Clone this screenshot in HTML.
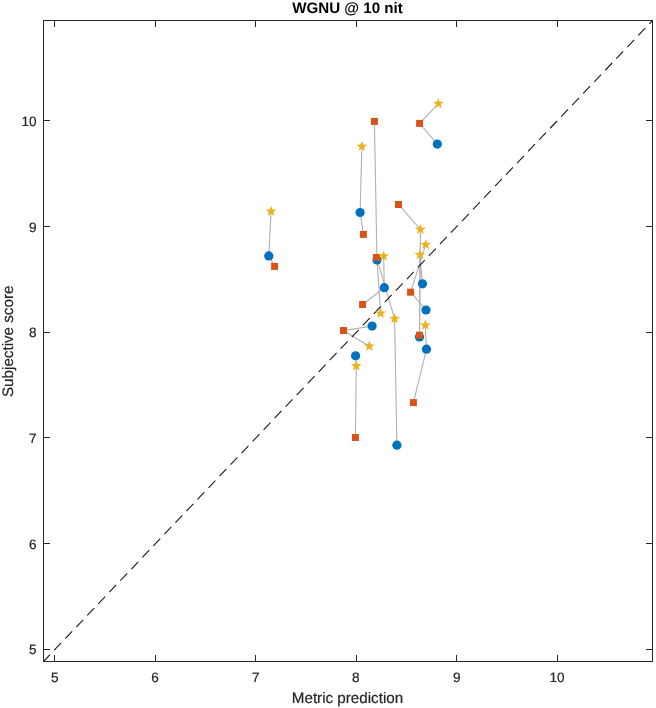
<!DOCTYPE html>
<html><head><meta charset="utf-8"><title>WGNU @ 10 nit</title>
<style>
html,body{margin:0;padding:0;background:#fff;}
body{width:656px;height:708px;overflow:hidden;font-family:"Liberation Sans",sans-serif;}
svg text{text-rendering:geometricPrecision;}
svg{will-change:transform;}
svg{display:block;font-family:"Liberation Sans",sans-serif;}
</style></head><body>
<svg width="656" height="708" viewBox="0 0 656 708">
<rect x="0" y="0" width="656" height="708" fill="#ffffff"/>
<g fill="none" stroke="#b0b0b0" stroke-width="1.1" stroke-linejoin="round">
<polyline points="438.4,103.6 419.6,123.4 437.3,144.1"/>
<polyline points="374.4,121.4 377.0,260.0 380.6,313.4"/>
<polyline points="361.9,146.4 360.1,212.5 363.4,234.4"/>
<polyline points="271.1,211.3 268.8,255.9 274.6,266.4"/>
<polyline points="398.5,204.5 420.4,229.4 419.5,336.9"/>
<polyline points="425.7,244.7 410.6,292.2 426.0,310.0"/>
<polyline points="422.5,283.8 419.9,254.8 419.5,335.2"/>
<polyline points="383.7,256.2 384.3,287.7 362.6,304.5"/>
<polyline points="376.5,257.4 394.6,318.8 396.9,445.2"/>
<polyline points="372.1,326.1 343.5,330.5 369.3,346.2"/>
<polyline points="355.6,355.8 356.3,365.9 355.4,437.5"/>
<polyline points="425.3,325.2 426.5,349.2 413.4,402.6"/>
</g>
<line x1="43.5" y1="661.5" x2="652.5" y2="20.5" stroke="#1a1a1a" stroke-width="1.1" stroke-dasharray="10 6" stroke-dashoffset="0.45"/>
<g fill="#0072bd">
<circle cx="437.3" cy="144.1" r="4.62"/>
<circle cx="360.1" cy="212.5" r="4.62"/>
<circle cx="268.8" cy="255.9" r="4.62"/>
<circle cx="377.0" cy="260.0" r="4.62"/>
<circle cx="384.3" cy="287.7" r="4.62"/>
<circle cx="422.5" cy="283.8" r="4.62"/>
<circle cx="426.0" cy="310.0" r="4.62"/>
<circle cx="372.1" cy="326.1" r="4.62"/>
<circle cx="419.5" cy="336.9" r="4.62"/>
<circle cx="355.6" cy="355.8" r="4.62"/>
<circle cx="426.5" cy="349.2" r="4.62"/>
<circle cx="396.9" cy="445.2" r="4.62"/>
</g>
<g fill="#d95319">
<rect x="370.9" y="117.9" width="7.0" height="7.0"/>
<rect x="416.1" y="119.9" width="7.0" height="7.0"/>
<rect x="395.0" y="201.0" width="7.0" height="7.0"/>
<rect x="359.9" y="230.9" width="7.0" height="7.0"/>
<rect x="271.1" y="262.9" width="7.0" height="7.0"/>
<rect x="373.0" y="253.9" width="7.0" height="7.0"/>
<rect x="359.1" y="301.0" width="7.0" height="7.0"/>
<rect x="407.1" y="288.7" width="7.0" height="7.0"/>
<rect x="340.0" y="327.0" width="7.0" height="7.0"/>
<rect x="416.0" y="331.7" width="7.0" height="7.0"/>
<rect x="409.9" y="399.1" width="7.0" height="7.0"/>
<rect x="351.9" y="434.0" width="7.0" height="7.0"/>
</g>
<g fill="#edb120">
<polygon points="438.40,97.95 439.77,101.76 443.82,101.89 440.62,104.37 441.75,108.26 438.40,105.99 435.05,108.26 436.18,104.37 432.98,101.89 437.03,101.76"/>
<polygon points="361.90,140.75 363.27,144.56 367.32,144.69 364.12,147.17 365.25,151.06 361.90,148.79 358.55,151.06 359.68,147.17 356.48,144.69 360.53,144.56"/>
<polygon points="271.10,205.65 272.47,209.46 276.52,209.59 273.32,212.07 274.45,215.96 271.10,213.69 267.75,215.96 268.88,212.07 265.68,209.59 269.73,209.46"/>
<polygon points="420.40,223.75 421.77,227.56 425.82,227.69 422.62,230.17 423.75,234.06 420.40,231.79 417.05,234.06 418.18,230.17 414.98,227.69 419.03,227.56"/>
<polygon points="425.70,238.95 427.07,242.76 431.12,242.89 427.92,245.37 429.05,249.26 425.70,246.99 422.35,249.26 423.48,245.37 420.28,242.89 424.33,242.76"/>
<polygon points="383.70,250.45 385.07,254.26 389.12,254.39 385.92,256.87 387.05,260.76 383.70,258.49 380.35,260.76 381.48,256.87 378.28,254.39 382.33,254.26"/>
<polygon points="419.90,249.05 421.27,252.86 425.32,252.99 422.12,255.47 423.25,259.36 419.90,257.09 416.55,259.36 417.68,255.47 414.48,252.99 418.53,252.86"/>
<polygon points="380.60,307.65 381.97,311.46 386.02,311.59 382.82,314.07 383.95,317.96 380.60,315.69 377.25,317.96 378.38,314.07 375.18,311.59 379.23,311.46"/>
<polygon points="394.60,313.05 395.97,316.86 400.02,316.99 396.82,319.47 397.95,323.36 394.60,321.09 391.25,323.36 392.38,319.47 389.18,316.99 393.23,316.86"/>
<polygon points="425.30,319.55 426.67,323.36 430.72,323.49 427.52,325.97 428.65,329.86 425.30,327.59 421.95,329.86 423.08,325.97 419.88,323.49 423.93,323.36"/>
<polygon points="369.30,340.45 370.67,344.26 374.72,344.39 371.52,346.87 372.65,350.76 369.30,348.49 365.95,350.76 367.08,346.87 363.88,344.39 367.93,344.26"/>
<polygon points="356.30,360.15 357.67,363.96 361.72,364.09 358.52,366.57 359.65,370.46 356.30,368.19 352.95,370.46 354.08,366.57 350.88,364.09 354.93,363.96"/>
</g>
<g stroke="#262626" stroke-width="1" shape-rendering="crispEdges" fill="none">
<rect x="43.5" y="20.5" width="609.0" height="641.0"/>
<line x1="54.5" y1="661.5" x2="54.5" y2="655.0"/>
<line x1="54.5" y1="20.5" x2="54.5" y2="27.0"/>
<line x1="155.5" y1="661.5" x2="155.5" y2="655.0"/>
<line x1="155.5" y1="20.5" x2="155.5" y2="27.0"/>
<line x1="255.5" y1="661.5" x2="255.5" y2="655.0"/>
<line x1="255.5" y1="20.5" x2="255.5" y2="27.0"/>
<line x1="356.5" y1="661.5" x2="356.5" y2="655.0"/>
<line x1="356.5" y1="20.5" x2="356.5" y2="27.0"/>
<line x1="456.5" y1="661.5" x2="456.5" y2="655.0"/>
<line x1="456.5" y1="20.5" x2="456.5" y2="27.0"/>
<line x1="557.5" y1="661.5" x2="557.5" y2="655.0"/>
<line x1="557.5" y1="20.5" x2="557.5" y2="27.0"/>
<line x1="43.5" y1="649.5" x2="50.0" y2="649.5"/>
<line x1="652.5" y1="649.5" x2="646.0" y2="649.5"/>
<line x1="43.5" y1="543.5" x2="50.0" y2="543.5"/>
<line x1="652.5" y1="543.5" x2="646.0" y2="543.5"/>
<line x1="43.5" y1="437.5" x2="50.0" y2="437.5"/>
<line x1="652.5" y1="437.5" x2="646.0" y2="437.5"/>
<line x1="43.5" y1="332.5" x2="50.0" y2="332.5"/>
<line x1="652.5" y1="332.5" x2="646.0" y2="332.5"/>
<line x1="43.5" y1="226.5" x2="50.0" y2="226.5"/>
<line x1="652.5" y1="226.5" x2="646.0" y2="226.5"/>
<line x1="43.5" y1="120.5" x2="50.0" y2="120.5"/>
<line x1="652.5" y1="120.5" x2="646.0" y2="120.5"/>
</g>
<g font-size="13.6px" fill="#262626" stroke="#262626" stroke-width="0.2">
<text x="54.9" y="682.0" text-anchor="middle">5</text>
<text x="155.1" y="682.0" text-anchor="middle">6</text>
<text x="255.7" y="682.0" text-anchor="middle">7</text>
<text x="355.8" y="682.0" text-anchor="middle">8</text>
<text x="456.9" y="682.0" text-anchor="middle">9</text>
<text x="557.1" y="682.0" text-anchor="middle">10</text>
<text x="36.6" y="653.9" text-anchor="end">5</text>
<text x="36.6" y="548.9" text-anchor="end">6</text>
<text x="36.6" y="443.0" text-anchor="end">7</text>
<text x="36.6" y="337.0" text-anchor="end">8</text>
<text x="36.6" y="232.0" text-anchor="end">9</text>
<text x="36.6" y="125.9" text-anchor="end">10</text>
</g>
<text x="347.5" y="702.6" text-anchor="middle" font-size="15.2px" fill="#262626" stroke="#262626" stroke-width="0.2">Metric prediction</text>
<text transform="translate(12.5,341.3) rotate(-90)" text-anchor="middle" font-size="15.2px" fill="#262626" stroke="#262626" stroke-width="0.2">Subjective score</text>
<text x="347.5" y="12.8" text-anchor="middle" font-size="15.15px" font-weight="bold" fill="#000000">WGNU @ 10 nit</text>
</svg>
</body></html>
